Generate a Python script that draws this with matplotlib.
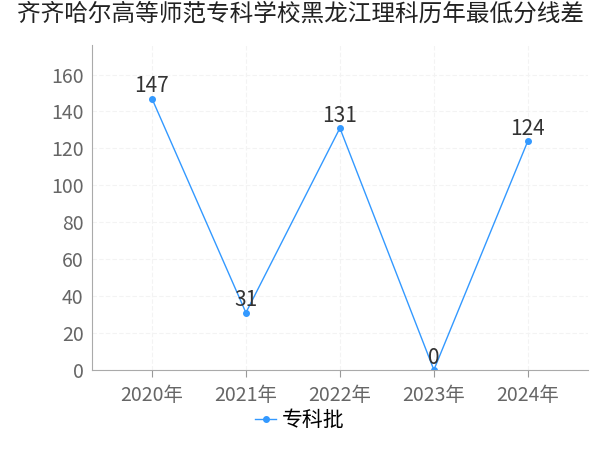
import matplotlib
matplotlib.use("Agg")
import matplotlib.pyplot as plt

plt.rcParams["font.family"] = "Noto Sans CJK SC"

title = "齐齐哈尔高等师范专科学校黑龙江理科历年最低分线差"
categories = ["2020年", "2021年", "2022年", "2023年", "2024年"]
series_name = "专科批"
values = [147, 31, 131, 0, 124]
yticks = [0, 20, 40, 60, 80, 100, 120, 140, 160]

fig = plt.figure(figsize=(6, 4.5), dpi=100)
ax = fig.add_axes([0.153, 0.178, 0.827, 0.722])
x = list(range(len(categories)))
color = "#3399ff"
ax.plot(x, values, color=color, lw=1, marker="o", ms=4, label=series_name)
for xi, v in zip(x, values):
    ax.annotate(str(v), (xi, v), xytext=(0, 1), textcoords="offset points",
                ha="center", va="bottom", fontsize=15, color="#333333")
ax.set_xlim(-0.64, 4.64)
ax.set_ylim(0, 176)
ax.set_xticks(x)
ax.set_xticklabels(categories)
ax.set_yticks(yticks)
ax.tick_params(labelsize=14, colors="#666666", length=0, pad=6)
ax.tick_params(axis="x", length=5, color="#999999")
ax.grid(True, color="#f3f3f3", lw=0.8, ls=(0, (4, 2)))
for s in ["top", "right"]:
    ax.spines[s].set_visible(False)
for s in ["left", "bottom"]:
    ax.spines[s].set_color("#aaaaaa")
fig.suptitle(title, fontsize=17, x=0.5, y=0.995, color="#222222")
fig.legend(loc="lower center", bbox_to_anchor=(0.5, 0.0), frameon=False,
           fontsize=15, handlelength=1.0, handletextpad=0.3)
fig.savefig("out.png", dpi=100)
